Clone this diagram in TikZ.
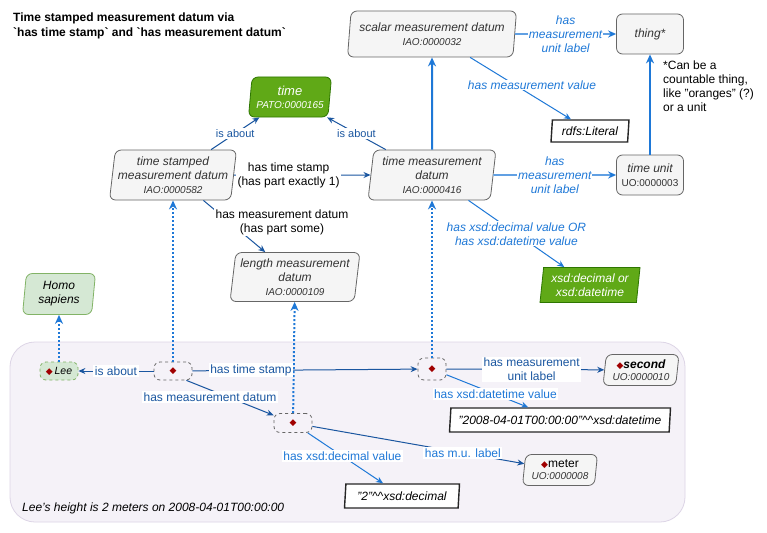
\documentclass[tikz,border=0pt]{standalone}
\usepackage{fontspec}
\setmainfont{Liberation Sans}
\newfontfamily\djv{DejaVu Sans}
\usetikzlibrary{shapes.geometric,arrows.meta}
\definecolor{dkb}{HTML}{1A56A0}
\definecolor{ltb}{HTML}{1E78D7}
\definecolor{gfill}{HTML}{F5F5F5}
\definecolor{gdraw}{HTML}{666666}
\definecolor{gtext}{HTML}{333333}
\definecolor{grn}{HTML}{60A917}
\definecolor{grnd}{HTML}{2D7600}
\definecolor{lgrn}{HTML}{D5E8D4}
\definecolor{lgrnd}{HTML}{82B366}
\definecolor{contf}{HTML}{F5F2F8}
\definecolor{contd}{HTML}{DDD5E6}
\definecolor{dred}{HTML}{A00000}
\newcommand{\fs}{\fontsize{12}{14}\selectfont}
\newcommand{\idf}[1]{{\fontsize{10}{12}\selectfont #1}}
\newcommand{\dia}{{\djv\fontsize{9}{9}\selectfont\textcolor{dred}{◆}}}
\begin{document}
\begin{tikzpicture}[x=1pt,y=-1pt,
  slant/.style={trapezium, trapezium left angle=81, trapezium right angle=99, trapezium stretches body, inner sep=0pt, align=center},
  gnode/.style={slant, draw=gdraw, fill=gfill, text=gtext, rounded corners=6pt, line width=0.8pt, font=\fs\itshape},
  rnode/.style={rectangle, draw=gdraw, fill=gfill, text=gtext, rounded corners=6pt, line width=0.8pt, inner sep=0pt, align=center, font=\fs\itshape},
  greennode/.style={slant, draw=grnd, fill=grn, text=white, line width=0.8pt, font=\fs\itshape},
  litnode/.style={slant, draw=black!85, fill=white, text=black, line width=1.4pt, font=\fs\itshape},
  indiv/.style={rectangle, draw=gdraw, dashed, rounded corners=6pt, line width=0.8pt, inner sep=0pt},
  dkline/.style={draw=dkb, line width=1pt, -{Stealth[length=7pt,width=6pt]}},
  ltline/.style={draw=ltb, line width=1pt, -{Stealth[length=7pt,width=6pt]}},
  paleline/.style={draw=ltb!70, line width=1.8pt, -{Stealth[length=8pt,width=7pt,color=ltb]}},
  thk/.style={draw=ltb, line width=2pt, -{Stealth[length=9pt,width=8pt]}},
  dotl/.style={draw=ltb, line width=2pt, dash pattern=on 2pt off 2pt, -{Stealth[length=9pt,width=8pt]}},
  lab/.style={fill=white, inner sep=1.5pt, align=center, font=\fs, text=black},
  ilab/.style={fill=white, inner sep=1pt, align=center, font=\fontsize{12}{14}\selectfont\itshape, text=ltb}
]
\useasboundingbox (0,0) rectangle (767,532);
\fill[white] (0,0) rectangle (767,532);

% container
\node[draw=contd, fill=contf, rounded corners=25pt, line width=0.8pt, minimum width=675, minimum height=180, inner sep=0pt] (cont) at (347.5,432) {};
\node[anchor=west, font=\fs\itshape, text=black, inner sep=0pt] (caption) at (22,508) {Lee's height is 2 meters on 2008-04-01T00:00:00};

% title
\node[anchor=north west, align=left, font=\fontsize{12}{15}\selectfont\bfseries, inner sep=0pt] (title) at (13,13) {Time stamped measurement datum via\\\textasciigrave has time stamp\textasciigrave\ and \textasciigrave has measurement datum\textasciigrave};

% class nodes
\node[gnode, minimum width=169, minimum height=46] (scalar) at (432,34) {scalar measurement datum\\\idf{IAO:0000032}};
\node[rnode, minimum width=67, minimum height=40] (thing) at (650,34) {thing*};
\node[anchor=north west, align=left, font=\fs, inner sep=0pt] (note) at (663,61) {*Can be a\\countable thing,\\like "oranges" (?)\\or a unit};
\node[greennode, rounded corners=6pt, minimum width=83, minimum height=40] (time) at (290,97) {{\fontsize{13}{14}\selectfont time}\\[-1pt]\idf{PATO:0000165}};
\node[litnode, minimum width=78, minimum height=22] (rdfs) at (590,131) {rdfs:Literal};
\node[gnode, minimum width=127, minimum height=50] (tsmd) at (173,175) {time stamped\\measurement datum\\\idf{IAO:0000582}};
\node[gnode, minimum width=128, minimum height=50] (tmd) at (432,175) {time measurement\\datum\\\idf{IAO:0000416}};
\node[rnode, minimum width=67, minimum height=40] (tu) at (650,175) {time unit\\\idf{\upshape UO:0000003}};
\node[gnode, minimum width=130, minimum height=49] (lmd) at (295,277) {length measurement\\datum\\\idf{IAO:0000109}};
\node[greennode, minimum width=100, minimum height=35] (xsd) at (590,285) {xsd:decimal or\\xsd:datetime};
\node[slant, draw=lgrnd, fill=lgrn, rounded corners=6pt, line width=0.8pt, font=\fs\itshape, text=black, minimum width=73, minimum height=41] (homo) at (59,294) {Homo\\sapiens};

% individuals
\node[indiv, draw=lgrnd, fill=lgrn, minimum width=38, minimum height=18, font=\fontsize{10.5}{12}\selectfont\itshape] (Lee) at (59,371) {\dia\,Lee};
\node[indiv, minimum width=38, minimum height=18] (A) at (173,371) {\dia};
\node[indiv, minimum width=38, minimum height=19] (B) at (293,423) {\dia};
\node[indiv, minimum width=28, minimum height=22] (C) at (432,369) {\dia};
\node[gnode, minimum width=76, minimum height=31, text=black] (second) at (641,370) {\dia\textbf{second}\\[-2pt]\idf{\color{gtext}UO:0000010}};
\node[litnode, minimum width=221, minimum height=24] (dtlit) at (560,420) {"2008-04-01T00:00:00"\textasciicircum\textasciicircum xsd:datetime};
\node[gnode, minimum width=75, minimum height=31, text=black, font=\fs] (meter) at (560,470) {\dia meter\\[-2pt]\idf{\itshape\color{gtext}UO:0000008}};
\node[litnode, minimum width=115, minimum height=24] (declit) at (402,496) {"2"\textasciicircum\textasciicircum xsd:decimal};

% outer connectors
\draw[dkline] (tsmd) -- (time) node[lab, text=dkb, pos=.5, font=\fontsize{11}{13}\selectfont] (l1) {is about};
\draw[dkline] (tmd) -- (time) node[lab, text=dkb, pos=.5, font=\fontsize{11}{13}\selectfont] (l2) {is about};
\draw[dkline] (tsmd) -- (tmd) node[lab, pos=.4] (l3) {has time stamp\\(has part exactly 1)};
\draw[dkline] (tsmd) -- (lmd);
\node[lab] (l4) at (282,222) {has measurement datum\\(has part some)};
\draw[thk] (tmd) -- (scalar);
\draw[thk] (tu) -- (thing);
\draw[paleline] (scalar) -- (thing) node[ilab, pos=.5] (l5) {has\\measurement\\unit label};
\draw[ltline] (scalar) -- (rdfs);
\node[ilab] (l6) at (532,85) {has measurement value};
\draw[paleline] (tmd) -- (tu) node[ilab, pos=.5] (l7) {has\\measurement\\unit label};
\draw[ltline] (tmd) -- (xsd) node[ilab, pos=.5] (l8) {has xsd:decimal value OR\\has xsd:datetime value};

% dotted instance-of
\draw[dotl] (Lee) -- (homo);
\draw[dotl] (A) -- (tsmd);
\draw[dotl] (B) -- (lmd);
\draw[dotl] (C) -- (tmd);

% inner connectors
\draw[dkline] (A) -- (Lee) node[lab, text=dkb, pos=.5] (m1) {is about};
\draw[dkline] (A) -- (C) node[lab, text=dkb, pos=.26] (m2) {has time stamp};
\draw[dkline] (A.-35) -- (B);
\node[lab, text=dkb] (m3) at (210,397) {has measurement datum};
\draw[dkline] (C) -- (second) node[lab, text=dkb, pos=.54] (m4) {has measurement\\unit label};
\draw[ltline] (C) -- (dtlit) node[lab, text=ltb, pos=.6] (m5) {has xsd:datetime value};
\draw[dkline] (B) -- (meter) node[lab, text=ltb, pos=.71] (m6) {has m.u. label};
\draw[ltline] (B) -- (declit) node[lab, text=ltb, pos=.46] (m7) {has xsd:decimal value};
\end{tikzpicture}
\end{document}
